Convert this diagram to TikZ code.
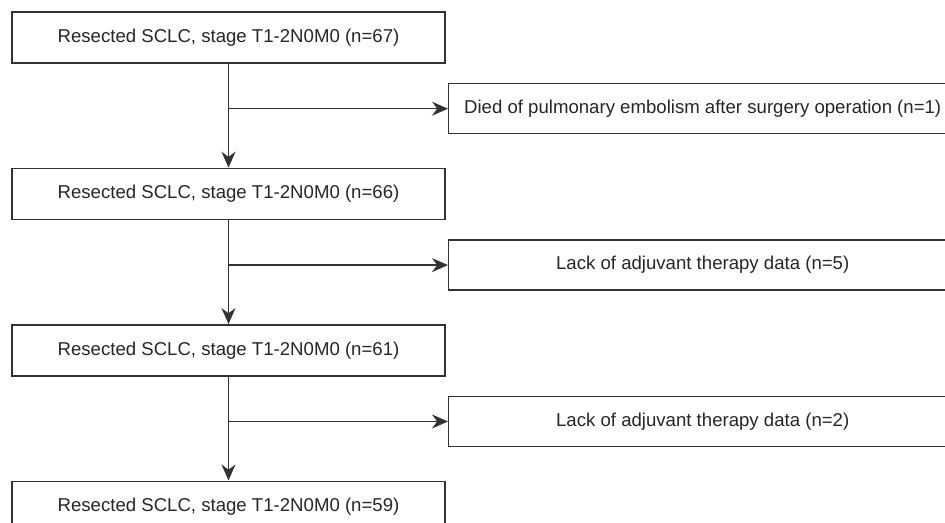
\documentclass[tikz,border=0pt]{standalone}
\usepackage{fontspec}
\setmainfont{Liberation Sans}
\usepackage{tikz}
\usetikzlibrary{arrows.meta,positioning}
\definecolor{ink}{HTML}{333333}

\begin{document}
\begin{tikzpicture}[>={Stealth[length=8pt,width=7pt]},node distance=52pt,
  line width=0.7pt,draw=ink,
  stage/.style={draw=ink,minimum width=216.5pt,minimum height=25.5pt,inner sep=0pt,
    font=\fontsize{9.3}{11}\selectfont,text=black!85},
  excl/.style={draw=ink,minimum width=254pt,minimum height=25pt,inner sep=0pt,
    font=\fontsize{9.3}{11}\selectfont,text=black!85}]
\useasboundingbox (0,0) rectangle (472.5pt,-261.5pt);
\clip (0,0) rectangle (472.5pt,-261.5pt);
\node[stage] (s1) at (114.25pt,-18.75pt) {Resected SCLC, stage T1-2N0M0 (n=67)};
\node[stage,below=of s1] (s2) {Resected SCLC, stage T1-2N0M0 (n=66)};
\node[stage,below=of s2] (s3) {Resected SCLC, stage T1-2N0M0 (n=61)};
\node[stage,below=of s3] (s4) {Resected SCLC, stage T1-2N0M0 (n=59)};
\coordinate[below=22.5pt of s1] (b1);
\coordinate[below=22.5pt of s2] (b2);
\coordinate[below=22.5pt of s3] (b3);
\node[excl,right=109.75pt of b1] (x1) {Died of pulmonary embolism after surgery operation (n=1)};
\node[excl,right=109.75pt of b2] (x2) {Lack of adjuvant therapy data (n=5)};
\node[excl,right=109.75pt of b3] (x3) {Lack of adjuvant therapy data (n=2)};
\draw[->,ink] (s1) -- (s2);
\draw[->,ink] (s2) -- (s3);
\draw[->,ink] (s3) -- (s4);
\draw[->,ink] (b1) -- (x1);
\draw[->,ink] (b2) -- (x2);
\draw[->,ink] (b3) -- (x3);
\end{tikzpicture}
\end{document}
